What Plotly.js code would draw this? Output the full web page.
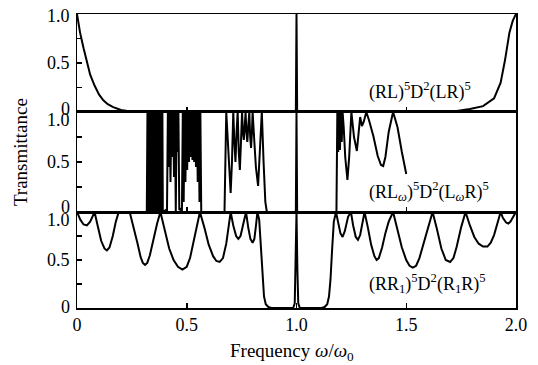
<!DOCTYPE html>
<html>
<head>
<meta charset="utf-8">
<script src="https://cdn.plot.ly/plotly-3.0.1.min.js"></script>
<style>html,body{margin:0;padding:0;background:#fff;}#chart{width:538px;height:365px;}</style>
</head>
<body>
<div id="chart"></div>
<script>
// Top panel: (RL)^5 D^2 (LR)^5
var topX = [0, 0.014, 0.03, 0.046, 0.06, 0.08, 0.10, 0.12, 0.14, 0.165, 0.20, 0.23, 0.29, 0.997, 1.0, 1.003, 1.65, 1.73, 1.79, 1.85, 1.90, 1.93, 1.95, 1.97, 1.985, 2.0];
var topY = [1.0, 0.81, 0.65, 0.5, 0.38, 0.27, 0.18, 0.12, 0.08, 0.05, 0.02, 0.01, 0, 0, 1.0, 0, 0, 0.01, 0.03, 0.06, 0.14, 0.30, 0.53, 0.81, 0.93, 1.0];

// Middle panel: (RL_w)^5 D^2 (L_w R)^5
var midX = [0, 0.318,
  0.321, 0.323, 0.325, 0.327, 0.329, 0.331, 0.333, 0.335, 0.337, 0.339, 0.341, 0.343, 0.345, 0.347, 0.349, 0.351, 0.353, 0.355, 0.357, 0.359,
  0.361, 0.363, 0.365, 0.367, 0.369, 0.371, 0.373, 0.375, 0.377, 0.379, 0.381, 0.383, 0.385, 0.387, 0.389, 0.391,
  0.405, 0.410,
  0.414, 0.418, 0.422, 0.426, 0.430, 0.434, 0.438, 0.442, 0.446, 0.450, 0.454, 0.458, 0.462, 0.466,
  0.472, 0.478,
  0.482, 0.486, 0.490, 0.494, 0.498, 0.502, 0.506, 0.510, 0.514, 0.518, 0.522, 0.526, 0.530, 0.534, 0.538, 0.542, 0.546, 0.550, 0.554, 0.558, 0.562, 0.566,
  0.57, 0.672,
  0.68, 0.69, 0.70, 0.706, 0.712, 0.717, 0.722, 0.727, 0.732, 0.737, 0.742, 0.747, 0.752, 0.756, 0.76, 0.764, 0.768, 0.772, 0.776, 0.78, 0.785, 0.789, 0.793, 0.797, 0.80, 0.808, 0.815, 0.825, 0.833, 0.842, 0.85, 0.858, 0.865,
  0.997, 1.0, 1.003,
  1.182, 1.186, 1.19, 1.194, 1.198, 1.202, 1.206, 1.21, 1.215, 1.222, 1.232, 1.24, 1.25, 1.262, 1.275, 1.282, 1.29, 1.298, 1.306, 1.318, 1.33, 1.35, 1.37, 1.385, 1.395, 1.405, 1.42, 1.44, 1.46, 1.48, 1.50];
var midY = [0, 0,
  1, 0, 1, 0.02, 1, 0, 1, 0.05, 1, 0, 1, 0.03, 1, 0, 1, 0.08, 1, 0, 1, 0.02,
  1, 0, 1, 0.04, 1, 0, 1, 0.06, 1, 0, 1, 0.1, 1, 0, 1, 0,
  0.02, 0,
  1, 0.45, 1, 0.3, 1, 0.55, 1, 0.35, 1, 0, 1, 0.6, 1, 0.02,
  0.03, 0,
  1, 0.1, 1, 0.3, 1, 0.42, 1, 0.5, 1, 0.55, 1, 0.52, 1, 0.5, 1, 0.45, 1, 0.3, 1, 0.1, 1, 0,
  0, 0,
  1, 0.6, 0.19, 0.5, 1, 0.7, 0.5, 0.8, 1, 0.6, 0.42, 0.7, 1, 0.8, 0.72, 0.85, 1, 0.8, 0.7, 0.85, 1, 0.75, 0.64, 0.8, 1, 0.7, 0.45, 0.26, 0.55, 1, 0.5, 0.1, 0,
  0, 1, 0,
  0, 1, 0.6, 1, 0.62, 1, 0.7, 1, 0.85, 0.55, 0.32, 0.55, 1, 0.75, 0.61, 0.75, 0.95, 0.86, 0.9, 1, 0.92, 0.76, 0.56, 0.47, 0.46, 0.55, 0.8, 1, 0.85, 0.6, 0.38];

// Bottom panel: (RR1)^5 D^2 (R1R)^5
var botX = [0, 0.015, 0.03, 0.045, 0.06, 0.08,
  0.095, 0.11, 0.125, 0.136, 0.148, 0.163, 0.177, 0.19,
  0.24,
  0.258, 0.275, 0.29, 0.30, 0.31, 0.32, 0.332, 0.348, 0.365, 0.38,
  0.40, 0.42, 0.44, 0.46, 0.48, 0.50, 0.515, 0.53, 0.545, 0.56,
  0.58, 0.60, 0.62, 0.635, 0.65, 0.665, 0.68, 0.69, 0.70,
  0.712, 0.725, 0.735, 0.745, 0.757, 0.77,
  0.78, 0.79, 0.80, 0.808, 0.815, 0.822,
  0.83, 0.838, 0.845, 0.852, 0.86, 0.872, 0.885,
  0.985, 0.992, 0.996, 1.0, 1.004, 1.008, 1.015,
  1.115, 1.128, 1.14, 1.148, 1.155, 1.162, 1.17, 1.18,
  1.19, 1.2, 1.21, 1.22, 1.235, 1.248, 1.258, 1.27, 1.28, 1.29, 1.30, 1.31,
  1.325, 1.34, 1.355, 1.365, 1.375, 1.39, 1.405, 1.42, 1.44,
  1.46, 1.48, 1.50, 1.515, 1.53, 1.545, 1.56, 1.58, 1.60, 1.62,
  1.64, 1.66, 1.68, 1.70, 1.715, 1.73, 1.75, 1.77,
  1.79, 1.81, 1.83, 1.85, 1.87, 1.885, 1.90, 1.915, 1.93,
  1.94, 1.955, 1.965, 1.975, 1.99, 2.0];
var botY = [1, 0.92, 0.87, 0.86, 0.9, 1,
  0.85, 0.7, 0.62, 0.6, 0.63, 0.75, 0.9, 1,
  1,
  0.85, 0.68, 0.53, 0.47, 0.45, 0.47, 0.55, 0.72, 0.88, 1,
  0.82, 0.62, 0.5, 0.43, 0.40, 0.43, 0.52, 0.67, 0.84, 1,
  0.84, 0.66, 0.54, 0.49, 0.48, 0.52, 0.67, 0.82, 1,
  0.86, 0.75, 0.72, 0.75, 0.87, 1,
  0.84, 0.72, 0.68, 0.72, 0.85, 1,
  0.92, 0.6, 0.3, 0.12, 0.04, 0.01, 0,
  0, 0.05, 0.4, 1, 0.4, 0.05, 0,
  0, 0.01, 0.04, 0.12, 0.3, 0.6, 0.9, 1,
  0.9, 0.78, 0.74, 0.8, 0.95, 1, 0.86, 0.74, 0.71, 0.76, 0.88, 1,
  0.84, 0.66, 0.54, 0.5, 0.52, 0.63, 0.78, 0.9, 1,
  0.82, 0.63, 0.5, 0.44, 0.42, 0.44, 0.52, 0.68, 0.86, 1,
  0.82, 0.62, 0.5, 0.48, 0.52, 0.64, 0.84, 1,
  0.86, 0.74, 0.67, 0.64, 0.64, 0.68, 0.76, 0.88, 1,
  0.94, 0.89, 0.88, 0.9, 0.96, 1];

var xTickVals = [0, 0.5, 1.0, 1.5, 2.0];
var xTickText = ['0', '0.5', '1.0', '1.5', '2.0'];
var yTickVals = [0, 0.5, 1.0];
var yTickText = ['0', '0.5', '1.0'];
var panelLabels = ['(RL)<sup>5</sup>D<sup>2</sup>(LR)<sup>5</sup>',
                   '(RL<sub><i>ω</i></sub>)<sup>5</sup>D<sup>2</sup>(L<sub><i>ω</i></sub>R)<sup>5</sup>',
                   '(RR<sub>1</sub>)<sup>5</sup>D<sup>2</sup>(R<sub>1</sub>R)<sup>5</sup>'];

var FONT = 'Liberation Serif';
var lineStyle = {color: '#000', width: 2};

var traces = [
  {x: botX, y: botY, xaxis: 'x', yaxis: 'y', mode: 'lines', line: lineStyle, hoverinfo: 'skip'},
  {x: midX, y: midY, xaxis: 'x2', yaxis: 'y2', mode: 'lines', line: lineStyle, hoverinfo: 'skip'},
  {x: topX, y: topY, xaxis: 'x3', yaxis: 'y3', mode: 'lines', line: lineStyle, hoverinfo: 'skip'}
];

function xAx(anchor, labels) {
  return {anchor: anchor, range: [0, 2], showgrid: false, zeroline: false,
    showline: true, linecolor: '#000', linewidth: 1.5, mirror: true,
    ticks: 'inside', ticklen: 5, tickwidth: 1.5, tickcolor: '#000',
    tickvals: xTickVals, ticktext: xTickText, showticklabels: labels,
    tickfont: {family: FONT, size: 18, color: '#000'}};
}
function yAx(anchor, dom) {
  return {anchor: anchor, domain: dom, range: [0, 1], showgrid: false, zeroline: false,
    showline: true, linecolor: '#000', linewidth: 1.5, mirror: true,
    ticks: 'inside', ticklen: 5, tickwidth: 1.5, tickcolor: '#000',
    tickvals: [0, 0.25, 0.5, 0.75, 1], showticklabels: false};
}

var annotations = [];
// y tick labels (per panel, with the slight offsets of the original)
var axes = ['y3', 'y2', 'y'];
var shifts = [[3, 0, -2], [5, 0, -8], [1, 0, -8]];
axes.forEach(function (ax, p) {
  yTickVals.forEach(function (v, i) {
    annotations.push({xref: 'paper', x: 0, xanchor: 'right', xshift: -5,
      yref: ax, y: v, yanchor: 'middle', yshift: shifts[p][i],
      text: yTickText[i], showarrow: false,
      font: {family: FONT, size: 18, color: '#000'}});
  });
});
// panel labels
var labAxes = [['x3', 'y3', 0.21], ['x2', 'y2', 0.21], ['x', 'y', 0.26]];
labAxes.forEach(function (a, i) {
  annotations.push({xref: a[0], yref: a[1], x: 1.32, y: a[2], xanchor: 'left', yanchor: 'middle',
    text: panelLabels[i], showarrow: false, font: {family: FONT, size: 18, color: '#000'}});
});
// axis titles
annotations.push({xref: 'paper', yref: 'paper', x: -0.13, y: 0.53, textangle: -90,
  xanchor: 'center', yanchor: 'middle', text: 'Transmittance', showarrow: false,
  font: {family: FONT, size: 19, color: '#000'}});
annotations.push({xref: 'paper', yref: 'paper', x: 0.49, y: -0.15,
  xanchor: 'center', yanchor: 'middle', text: 'Frequency <i>ω</i>/<i>ω</i><sub>0</sub>', showarrow: false,
  font: {family: FONT, size: 19, color: '#000'}});

var layout = {
  width: 538, height: 365,
  margin: {l: 77, r: 22, t: 14, b: 57},
  paper_bgcolor: '#fff', plot_bgcolor: '#fff',
  showlegend: false,
  xaxis: xAx('y', true),
  xaxis2: Object.assign(xAx('y2', false), {matches: 'x'}),
  xaxis3: Object.assign(xAx('y3', false), {matches: 'x'}),
  yaxis: yAx('x', [0, 0.3265]),
  yaxis2: yAx('x2', [0.3265, 0.6667]),
  yaxis3: yAx('x3', [0.6667, 1]),
  annotations: annotations,
  font: {family: FONT, color: '#000'}
};

Plotly.newPlot('chart', traces, layout, {staticPlot: true, displayModeBar: false});
</script>
</body>
</html>
